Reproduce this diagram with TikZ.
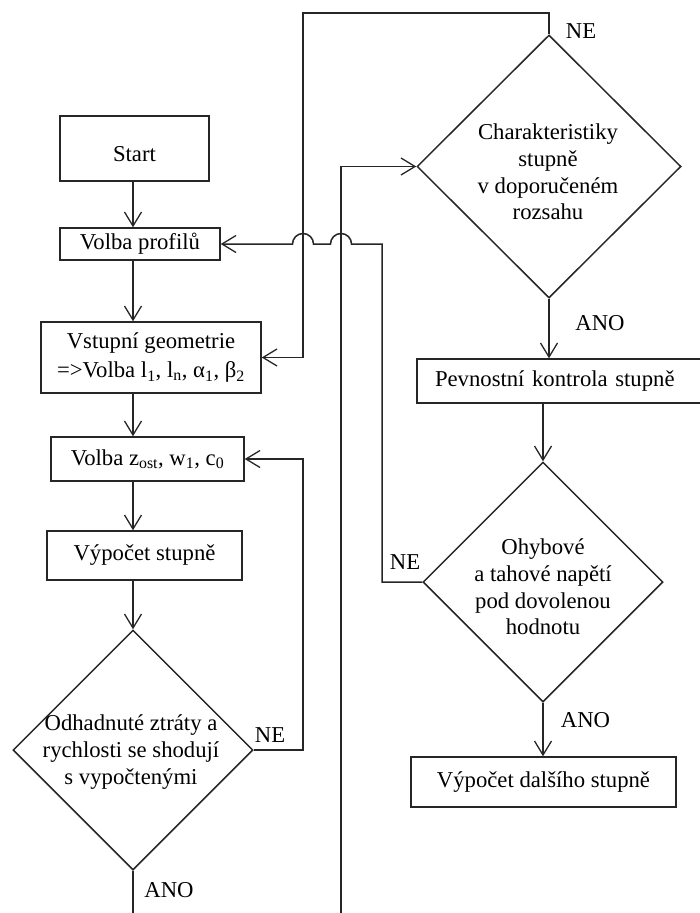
\documentclass[tikz,border=0pt]{standalone}
\usepackage{fontspec}
\setmainfont{Liberation Serif}
\usetikzlibrary{shapes.geometric,arrows.meta,calc}
\begin{document}
\begin{tikzpicture}[x=1pt,y=-1pt,
  every node/.style={font=\fontsize{22.7}{26.8}\selectfont},
  box/.style={draw=black!85,line width=1.5pt,rectangle,inner sep=0pt,align=center},
  dia/.style={draw=black!85,line width=1.5pt,diamond,inner sep=0pt,aspect=1},
  conn/.style={draw=black!85,line width=1.5pt},
  arr/.style={conn,-{Straight Barb[length=14pt,width=17pt,line width=1.3pt]}},
  lbl/.style={inner sep=0pt,text depth=0pt},
  dtext/.style={inner sep=0pt,align=center}]
\clip (0,0) rectangle (700,913);
% left column
\node[box,minimum width=149pt,minimum height=65pt,text height=25.5pt,text depth=0pt] (start) at (134.5,148.5) {Start};
\node[box,minimum width=160pt,minimum height=32pt] (vp) at (140,244) {Volba profilů};
\node[box,minimum width=220pt,minimum height=71pt] (vg) at (151,357.5) {Vstupní geometrie\\[3pt]=>Volba l\textsubscript{1}, l\textsubscript{n}, α\textsubscript{1}, β\textsubscript{2}};
\node[box,minimum width=193pt,minimum height=44pt] (vz) at (147.5,459) {Volba z\textsubscript{ost}, w\textsubscript{1}, c\textsubscript{0}};
\node[box,minimum width=195pt,minimum height=49pt] (vs) at (144.5,555.5) {Výpočet stupně};
\node[dia,minimum width=240pt,minimum height=240pt] (d1) at (133,750) {};
\node[dtext] (d1t) at (131,752) {Odhadnuté ztráty a\\rychlosti se shodují\\s vypočtenými};
% right column
\node[dia,minimum width=264pt,minimum height=263pt] (d2) at (549,166.5) {};
\node[dtext] (d2t) at (548,172) {Charakteristiky\\stupně\\v doporučeném\\rozsahu};
\node[box,minimum width=303pt,minimum height=44pt,text width=267pt,inner xsep=18pt,align=left] (pk) at (568.5,381) {Pevnostní kontrola stupně};
\node[dia,minimum width=240pt,minimum height=240pt] (d3) at (543,582) {};
\node[dtext] (d3t) at (543,587) {Ohybové\\a tahové napětí\\pod dovolenou\\hodnotu};
\node[box,minimum width=265pt,minimum height=50pt] (vd) at (543.5,782) {Výpočet dalšího stupně};
% free ends at the bottom edge
\coordinate (b1) at (133,920);
\coordinate (b2) at (341,920);
% labels
\node[lbl] (ne1) at (581,31.5) {NE};
\node[lbl] (ano1) at (600,322.5) {ANO};
\node[lbl] (ne2) at (270,735) {NE};
\node[lbl] (ano2) at (169,889.5) {ANO};
\node[lbl] (ne3) at (405,562.5) {NE};
\node[lbl] (ano3) at (585.5,719.5) {ANO};
% main column connectors
\draw[arr] (start.south -| d1.north) -- (vp.north -| d1.north);
\draw[arr] (vp.south -| d1.north) -- (vg.north -| d1.north);
\draw[arr] (vg.south -| d1.north) -- (vz.north -| d1.north);
\draw[arr] (vz.south -| d1.north) -- (vs.north -| d1.north);
\draw[arr] (vs.south -| d1.north) -- (d1.north);
\draw[conn] (d1.south) -- (b1);
\draw[arr] (d1.east) -- (303,750) -- (303,459) -- (vz.east);
% right column connectors
\draw[arr] (d2.north) -- (549,13) -- (303,13) -- (303,357.5) -- (vg.east);
\draw[arr] (b2) -- (341,166.5) -- (d2.west);
\draw[arr] (d2.south) -- (pk.north -| d2.south);
\draw[arr] (pk.south -| d3.north) -- (d3.north);
\draw[arr] (d3.south) -- (vd.north -| d3.south);
\draw[arr] (d3.west) -- (382,582) -- (382,244) -- (351.5,244)
  arc[start angle=0,end angle=180,radius=10.5pt] -- (313.5,244)
  arc[start angle=0,end angle=180,radius=10.5pt] -- (vp.east);
\end{tikzpicture}
\end{document}
